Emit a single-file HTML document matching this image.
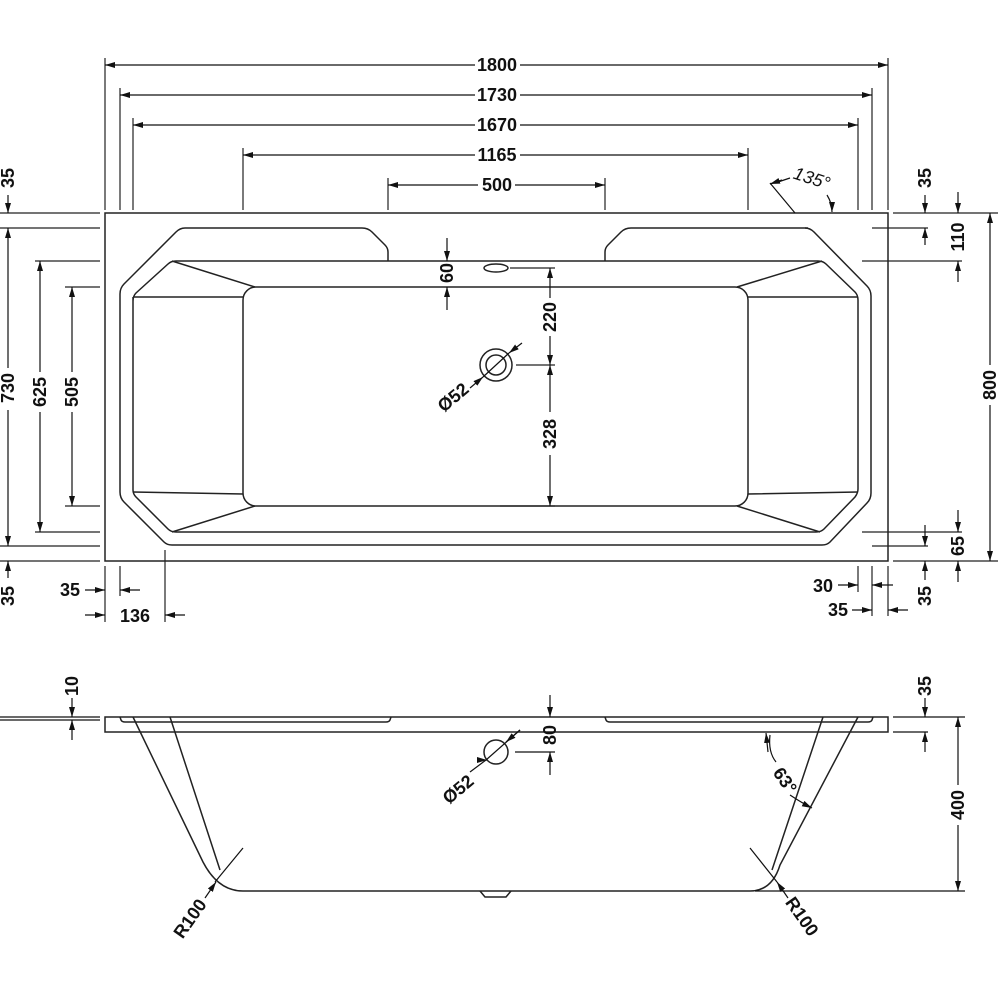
<!DOCTYPE html>
<html><head><meta charset="utf-8"><style>
html,body{margin:0;padding:0;background:#fff;}
svg{display:block;}
text{font-family:"Liberation Sans","DejaVu Sans",sans-serif;font-weight:bold;font-size:18px;fill:#111;}
</style></head><body>
<svg width="1000" height="1000" viewBox="0 0 1000 1000" xmlns="http://www.w3.org/2000/svg">
<defs>
<marker id="a" viewBox="0 0 10 10" refX="10" refY="5" markerWidth="10" markerHeight="10" markerUnits="userSpaceOnUse" orient="auto-start-reverse"><path d="M0,2 L10,5 L0,8 z" fill="#111"/></marker>
</defs>
<g fill="none" stroke="#222" stroke-width="1.5">
<rect x="105" y="213" width="783" height="348"/>
<path d="M185,228 L362,228 Q368,228 372,232 L385,245 Q388,248 388,252 L388,261"/>
<path d="M605,261 L605,252 Q605,248 608,245 L621,232 Q625,228 631,228 L808,228"/>
<path d="M185,228 Q180,228 176,232 L124,284 Q120,288 120,294 L120,492 Q120,498 124,502 L164,542 Q167,545 172,545 L822,545 Q827,545 830,542 L867,503 Q871,499 871,493 L871,296 Q871,290 867,286 L814,232 Q810,228 805,228"/>
<path d="M133,297 L133,490 Q133,494 136,497 L168,529 Q171,532 176,532 L816,532 Q821,532 824,529 L855,497 Q858,493 858,489 L858,300 Q858,295 855,292 L826,264 Q823,261 818,261 L176,261 Q171,261 168,264 L136,293 Q133,296 133,301"/>
<rect x="243" y="287" width="505" height="219" rx="13"/>
<path d="M172,261 L255,287 M133,297 L243,297 M133,492 L243,494 M172,532 L255,506"/>
<path d="M822,261 L737,287 M858,297 L748,297 M858,492 L748,494 M820,532 L737,506"/>
<ellipse cx="496" cy="268" rx="12" ry="4"/>
<circle cx="496" cy="365" r="16"/><circle cx="496" cy="365" r="10"/>
</g>
<g fill="none" stroke="#222" stroke-width="1.2">
<path d="M105,58 V210 M120,88 V210 M133,118 V210 M243,148 V210 M748,148 V210 M388,178 V210 M605,178 V210 M872,88 V210 M858,118 V210 M888,58 V210"/>
<path d="M0,213 H100 M0,228 H100 M35,261 H100 M65,287 H100 M65,506 H100 M35,532 H100 M0,546 H100 M0,561 H100"/>
<path d="M893,213 H998 M872,228 H928 M862,261 H962 M862,532 H962 M872,546 H928 M893,561 H998"/>
<path d="M105,566 V622 M120,566 V596 M165,550 V622 M858,566 V592 M872,566 V616 M888,566 V616"/>
<path d="M510,268 H555 M516,365 H555 M500,506 H555"/>
</g>
<g fill="none" stroke="#111" stroke-width="1.2">
<line x1="105" y1="65" x2="475" y2="65" marker-start="url(#a)"/><line x1="520" y1="65" x2="888" y2="65" marker-end="url(#a)"/>
<line x1="120" y1="95" x2="475" y2="95" marker-start="url(#a)"/><line x1="520" y1="95" x2="872" y2="95" marker-end="url(#a)"/>
<line x1="133" y1="125" x2="475" y2="125" marker-start="url(#a)"/><line x1="520" y1="125" x2="858" y2="125" marker-end="url(#a)"/>
<line x1="243" y1="155" x2="475" y2="155" marker-start="url(#a)"/><line x1="520" y1="155" x2="748" y2="155" marker-end="url(#a)"/>
<line x1="388" y1="185" x2="478" y2="185" marker-start="url(#a)"/><line x1="515" y1="185" x2="605" y2="185" marker-end="url(#a)"/>
<line x1="8" y1="195" x2="8" y2="213" marker-end="url(#a)"/>
<line x1="8" y1="228" x2="8" y2="368" marker-start="url(#a)"/><line x1="8" y1="410" x2="8" y2="546" marker-end="url(#a)"/>
<line x1="8" y1="578" x2="8" y2="561" marker-end="url(#a)"/>
<line x1="40" y1="261" x2="40" y2="372" marker-start="url(#a)"/><line x1="40" y1="412" x2="40" y2="532" marker-end="url(#a)"/>
<line x1="72" y1="287" x2="72" y2="372" marker-start="url(#a)"/><line x1="72" y1="412" x2="72" y2="506" marker-end="url(#a)"/>
<line x1="990" y1="213" x2="990" y2="365" marker-start="url(#a)"/><line x1="990" y1="405" x2="990" y2="561" marker-end="url(#a)"/>
<line x1="925" y1="195" x2="925" y2="213" marker-end="url(#a)"/><line x1="925" y1="245" x2="925" y2="228" marker-end="url(#a)"/>
<line x1="958" y1="192" x2="958" y2="213" marker-end="url(#a)"/><line x1="958" y1="282" x2="958" y2="261" marker-end="url(#a)"/>
<line x1="958" y1="510" x2="958" y2="532" marker-end="url(#a)"/><line x1="958" y1="582" x2="958" y2="561" marker-end="url(#a)"/>
<line x1="925" y1="525" x2="925" y2="546" marker-end="url(#a)"/><line x1="925" y1="580" x2="925" y2="561" marker-end="url(#a)"/>
<line x1="85" y1="590" x2="105" y2="590" marker-end="url(#a)"/><line x1="140" y1="590" x2="120" y2="590" marker-end="url(#a)"/>
<line x1="85" y1="615" x2="105" y2="615" marker-end="url(#a)"/><line x1="185" y1="615" x2="165" y2="615" marker-end="url(#a)"/>
<line x1="838" y1="585" x2="858" y2="585" marker-end="url(#a)"/><line x1="893" y1="585" x2="872" y2="585" marker-end="url(#a)"/>
<line x1="852" y1="610" x2="872" y2="610" marker-end="url(#a)"/><line x1="908" y1="610" x2="888" y2="610" marker-end="url(#a)"/>
<line x1="447" y1="238" x2="447" y2="261" marker-end="url(#a)"/><line x1="447" y1="310" x2="447" y2="287" marker-end="url(#a)"/>
<line x1="550" y1="268" x2="550" y2="298" marker-start="url(#a)"/><line x1="550" y1="336" x2="550" y2="365" marker-end="url(#a)"/>
<line x1="550" y1="365" x2="550" y2="412" marker-start="url(#a)"/><line x1="550" y1="455" x2="550" y2="506" marker-end="url(#a)"/>
<line x1="470" y1="388" x2="483" y2="377" marker-end="url(#a)"/><line x1="522" y1="343" x2="509" y2="353" marker-end="url(#a)"/>
<line x1="483" y1="377" x2="509" y2="353"/>
<path d="M770,183 L795,213 M790,178 L775,183" />
<path d="M827,195 Q832,203 832,212" marker-end="url(#a)"/>
<line x1="782" y1="180" x2="770" y2="184" marker-end="url(#a)"/>
</g>
<text x="497" y="71" text-anchor="middle">1800</text>
<text x="497" y="101" text-anchor="middle">1730</text>
<text x="497" y="131" text-anchor="middle">1670</text>
<text x="497" y="161" text-anchor="middle">1165</text>
<text x="497" y="191" text-anchor="middle">500</text>
<text transform="translate(14,178) rotate(-90)" text-anchor="middle">35</text>
<text transform="translate(14,388) rotate(-90)" text-anchor="middle">730</text>
<text transform="translate(46,392) rotate(-90)" text-anchor="middle">625</text>
<text transform="translate(78,392) rotate(-90)" text-anchor="middle">505</text>
<text transform="translate(14,596) rotate(-90)" text-anchor="middle">35</text>
<text transform="translate(996,385) rotate(-90)" text-anchor="middle">800</text>
<text transform="translate(931,178) rotate(-90)" text-anchor="middle">35</text>
<text transform="translate(964,237) rotate(-90)" text-anchor="middle">110</text>
<text transform="translate(964,546) rotate(-90)" text-anchor="middle">65</text>
<text transform="translate(931,596) rotate(-90)" text-anchor="middle">35</text>
<text transform="translate(453,273) rotate(-90)" text-anchor="middle">60</text>
<text transform="translate(556,317) rotate(-90)" text-anchor="middle">220</text>
<text transform="translate(556,434) rotate(-90)" text-anchor="middle">328</text>
<text transform="translate(457,402) rotate(-40)" text-anchor="middle">Ø52</text>
<text transform="translate(810,184) rotate(18)" text-anchor="middle" style="font-weight:normal;font-style:italic">135°</text>
<text x="70" y="596" text-anchor="middle">35</text>
<text x="135" y="622" text-anchor="middle">136</text>
<text x="823" y="592" text-anchor="middle">30</text>
<text x="838" y="616" text-anchor="middle">35</text>

<g fill="none" stroke="#222" stroke-width="1.5">
<rect x="105" y="717" width="783" height="15"/>
<path d="M120,717 L121,720 Q122,722 125,722 L386,722 Q389,722 390,720 L391,717"/>
<path d="M605,717 L606,720 Q607,722 610,722 L868,722 Q871,722 872,720 L873,717"/>
<path d="M133,717 L203,862 Q218,891 243,891 L750,891 Q772,891 780,865 L858,717"/>
<path d="M170,717 L220,870 M823,717 L772,870"/>
<path d="M480,891 L485,897 L506,897 L511,891"/>
<circle cx="496" cy="752" r="12"/>
</g>
<g fill="none" stroke="#111" stroke-width="1.2">
<path d="M0,717 H100 M0,720 H100 M893,717 H965 M893,732 H928 M755,891 H965 M515,752 H555"/>
<line x1="72" y1="698" x2="72" y2="717" marker-end="url(#a)"/><line x1="72" y1="740" x2="72" y2="720" marker-end="url(#a)"/>
<line x1="925" y1="698" x2="925" y2="717" marker-end="url(#a)"/><line x1="925" y1="752" x2="925" y2="732" marker-end="url(#a)"/>
<line x1="958" y1="717" x2="958" y2="785" marker-start="url(#a)"/><line x1="958" y1="825" x2="958" y2="891" marker-end="url(#a)"/>
<line x1="550" y1="695" x2="550" y2="717" marker-end="url(#a)"/><line x1="550" y1="775" x2="550" y2="752" marker-end="url(#a)"/>
<line x1="470" y1="772" x2="486" y2="760" /><line x1="486" y1="760" x2="487" y2="760" marker-end="url(#a)"/>
<line x1="486" y1="760" x2="520" y2="730"/><line x1="520" y1="730" x2="506" y2="742" marker-end="url(#a)"/>
<line x1="243" y1="848" x2="215" y2="882"/><line x1="205" y1="898" x2="216" y2="882" marker-end="url(#a)"/>
<line x1="750" y1="848" x2="777" y2="882"/><line x1="788" y1="898" x2="777" y2="882" marker-end="url(#a)"/>
<path d="M770,735 Q768,752 776,762" />
<line x1="768" y1="752" x2="766" y2="733" marker-end="url(#a)"/>
<path d="M790,795 Q802,803 812,808" marker-end="url(#a)"/>
</g>
<text transform="translate(78,686) rotate(-90)" text-anchor="middle">10</text>
<text transform="translate(931,686) rotate(-90)" text-anchor="middle">35</text>
<text transform="translate(964,805) rotate(-90)" text-anchor="middle">400</text>
<text transform="translate(556,735) rotate(-90)" text-anchor="middle">80</text>
<text transform="translate(462,794) rotate(-40)" text-anchor="middle">Ø52</text>
<text transform="translate(195,922) rotate(-55)" text-anchor="middle">R100</text>
<text transform="translate(797,920) rotate(55)" text-anchor="middle">R100</text>
<text transform="translate(780,784) rotate(55)" text-anchor="middle">63°</text>
</svg>
</body></html>
